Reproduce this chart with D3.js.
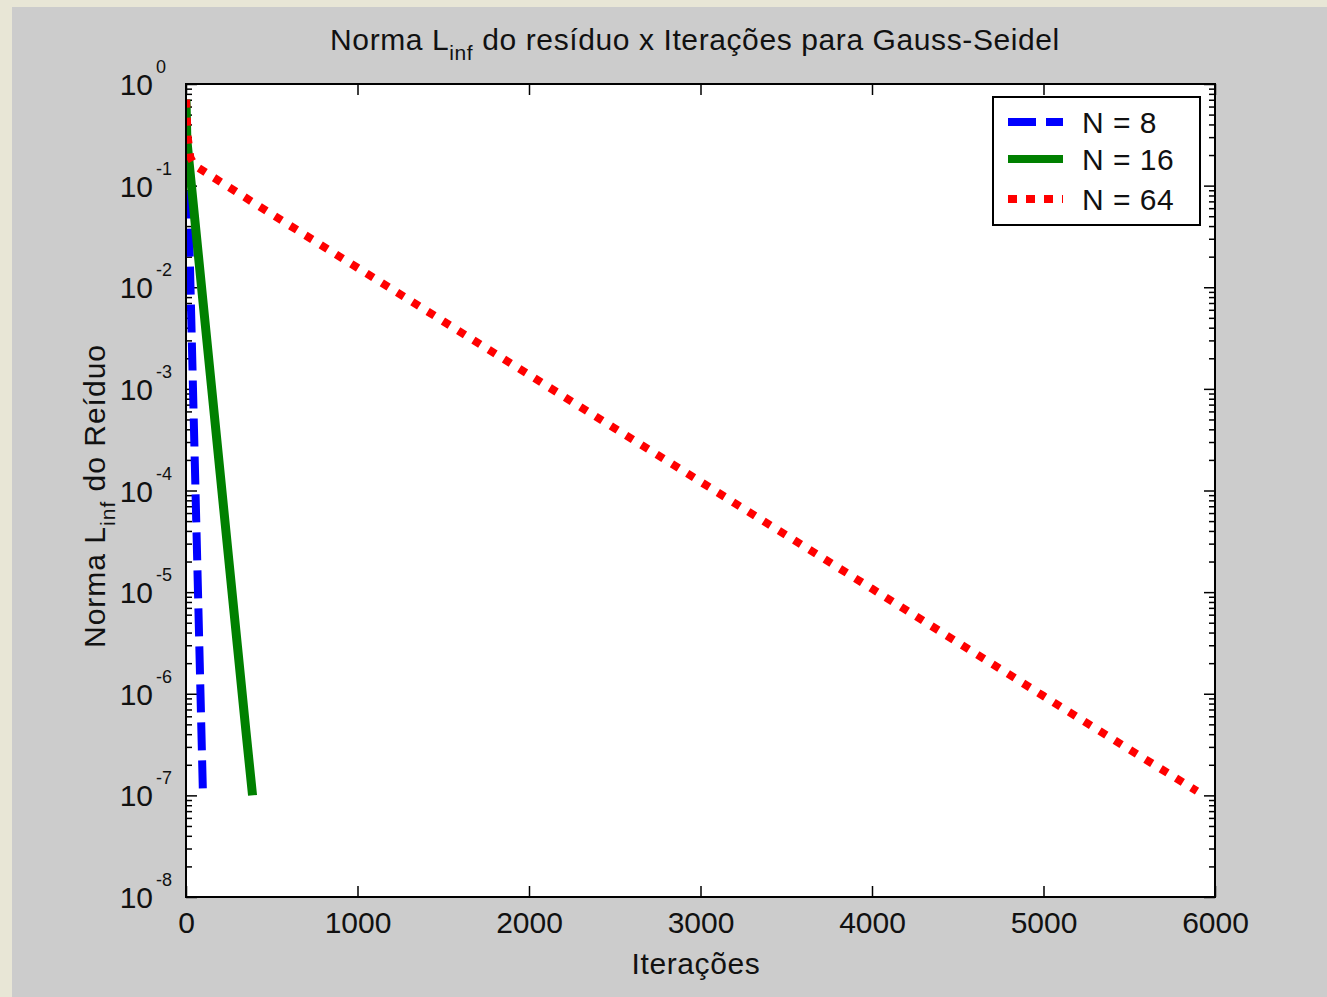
<!DOCTYPE html>
<html>
<head>
<meta charset="utf-8">
<script src="https://cdn.jsdelivr.net/npm/d3@7"></script>
<style>
body { margin: 0; background: #e8e6d6; }
text { font-family: "Liberation Sans", Arial, sans-serif; fill: #111; }
</style>
</head>
<body>
<script>
// values
var iterN8  = [0, 10, 20, 40, 60, 80, 99];
var resN8   = [0.5, 0.13, 0.0267, 1.13e-3, 4.78e-5, 2.03e-6, 1.0e-7];

var iterN16 = [0, 5, 50, 100, 150, 200, 250, 300, 350, 388];
var resN16  = [0.7, 0.28, 0.049, 6.97e-3, 1.0e-3, 1.43e-4, 2.04e-5, 2.93e-6, 4.2e-7, 1.0e-7];

var iterN64 = [0, 10, 25, 50, 500, 1000, 1500, 2000, 2500, 3000, 3500, 4000, 4500, 5000, 5500, 5895];
var resN64  = [0.7, 0.3, 0.19, 0.158, 0.0523, 0.01556, 0.00463, 0.001377, 4.09e-4, 1.22e-4, 3.63e-5, 1.08e-5, 3.2e-6, 9.5e-7, 2.84e-7, 1.1e-7];

var xTicks = [0, 1000, 2000, 3000, 4000, 5000, 6000];
var yExponents = [0, -1, -2, -3, -4, -5, -6, -7, -8];
var legendLabels = ["N = 8", "N = 16", "N = 64"];

var axL = 186, axR = 1215, axT = 84, axB = 897;

var xScale = d3.scaleLinear().domain([0, 6000]).range([axL, axR]);
var yScale = d3.scaleLog().domain([1e-8, 1]).range([axB, axT]);

var svg = d3.select("body").append("svg")
.attr("width", 1327)
.attr("height", 997);

// grey figure area
svg.append("rect")
.attr("x", 12).attr("y", 7)
.attr("width", 1315).attr("height", 990)
.attr("fill", "#cccccc");

svg.append("rect")
.attr("x", axL).attr("y", axT)
.attr("width", axR - axL).attr("height", axB - axT)
.attr("fill", "#ffffff");

svg.append("clipPath").attr("id", "clip")
.append("rect")
.attr("x", axL).attr("y", axT)
.attr("width", axR - axL).attr("height", axB - axT);

var majorY = yExponents.map(function(e) { return Math.pow(10, e); });
var minorY = [];
for (var e = -8; e < 0; e++) {
  for (var m = 2; m <= 9; m++) minorY.push(m * Math.pow(10, e));
}

function styleAxis(g) {
  g.select(".domain").remove();
  g.selectAll("line").attr("stroke", "#000").attr("stroke-width", 1.5);
}

var xAxisGroup = svg.append("g")
.attr("transform", "translate(0," + axB + ")")
.call(d3.axisBottom(xScale).tickValues(xTicks).tickSizeInner(-11).tickSizeOuter(0).tickPadding(15).tickFormat(d3.format("d")))
.call(styleAxis);
xAxisGroup.selectAll("text").attr("font-size", 30).attr("fill", "#111").attr("font-family", "Liberation Sans, Arial, sans-serif");

svg.append("g")
.attr("transform", "translate(0," + axT + ")")
.call(d3.axisTop(xScale).tickValues(xTicks).tickSizeInner(-11).tickSizeOuter(0).tickFormat(""))
.call(styleAxis);

svg.append("g")
.attr("transform", "translate(" + axL + ",0)")
.call(d3.axisLeft(yScale).tickValues(majorY).tickSizeInner(-11).tickSizeOuter(0).tickFormat(""))
.call(styleAxis);
svg.append("g")
.attr("transform", "translate(" + axL + ",0)")
.call(d3.axisLeft(yScale).tickValues(minorY).tickSizeInner(-6).tickSizeOuter(0).tickFormat(""))
.call(styleAxis);
svg.append("g")
.attr("transform", "translate(" + axR + ",0)")
.call(d3.axisRight(yScale).tickValues(majorY).tickSizeInner(-11).tickSizeOuter(0).tickFormat(""))
.call(styleAxis);
svg.append("g")
.attr("transform", "translate(" + axR + ",0)")
.call(d3.axisRight(yScale).tickValues(minorY).tickSizeInner(-6).tickSizeOuter(0).tickFormat(""))
.call(styleAxis);

// y tick labels 10^e
var yLabels = svg.append("g");
yExponents.forEach(function(e) {
  var y = yScale(Math.pow(10, e));
  yLabels.append("text")
  .attr("x", 153).attr("y", y + 11)
  .attr("text-anchor", "end")
  .attr("font-size", 30)
  .text("10");
  yLabels.append("text")
  .attr("x", 156).attr("y", y - 11)
  .attr("font-size", 18)
  .text(e);
});

// series
var linePath = d3.line()
.x(function(d) { return xScale(d[0]); })
.y(function(d) { return yScale(d[1]); });

var plot = svg.append("g").attr("clip-path", "url(#clip)");

plot.append("path")
.attr("d", linePath(d3.zip(iterN8, resN8)))
.attr("fill", "none").attr("stroke", "#0000ff")
.attr("stroke-width", 8).attr("stroke-dasharray", "28 10");

plot.append("path")
.attr("d", linePath(d3.zip(iterN16, resN16)))
.attr("fill", "none").attr("stroke", "#008000")
.attr("stroke-width", 9);

plot.append("path")
.attr("d", linePath(d3.zip(iterN64, resN64)))
.attr("fill", "none").attr("stroke", "#ff0000")
.attr("stroke-width", 8).attr("stroke-dasharray", "8 10");

// axes box
svg.append("rect")
.attr("x", axL).attr("y", axT)
.attr("width", axR - axL).attr("height", axB - axT)
.attr("fill", "none").attr("stroke", "#000").attr("stroke-width", 2);

// title
var title = svg.append("text")
.attr("x", 695).attr("y", 50)
.attr("text-anchor", "middle")
.attr("font-size", 30)
.attr("letter-spacing", 0.6);
title.append("tspan").text("Norma L");
title.append("tspan").attr("font-size", 21).attr("dy", 10).text("inf");
title.append("tspan").attr("dy", -10).text(" do resíduo x Iterações para Gauss-Seidel");

// axis labels
svg.append("text")
.attr("x", 696).attr("y", 974)
.attr("text-anchor", "middle")
.attr("font-size", 30)
.attr("letter-spacing", 0.6)
.text("Iterações");

var ylab = svg.append("text")
.attr("transform", "translate(105,496) rotate(-90)")
.attr("text-anchor", "middle")
.attr("font-size", 30)
.attr("letter-spacing", 1);
ylab.append("tspan").text("Norma L");
ylab.append("tspan").attr("font-size", 21).attr("dy", 10).text("inf");
ylab.append("tspan").attr("dy", -10).text(" do Reíduo");

// legend
var legend = svg.append("g");
legend.append("rect")
.attr("x", 993).attr("y", 97)
.attr("width", 207).attr("height", 128)
.attr("fill", "#fff").attr("stroke", "#000").attr("stroke-width", 2);

var legendColors = ["#0000ff", "#008000", "#ff0000"];
var legendDash = ["28 10", null, "9 9"];
var legendY = [122, 159, 199];
legendLabels.forEach(function(lab, i) {
  legend.append("line")
  .attr("x1", 1008).attr("x2", 1063)
  .attr("y1", legendY[i]).attr("y2", legendY[i])
  .attr("stroke", legendColors[i]).attr("stroke-width", 8)
  .attr("stroke-dasharray", legendDash[i]);
  legend.append("text")
  .attr("x", 1082).attr("y", legendY[i] + 11)
  .attr("font-size", 30)
  .attr("letter-spacing", 0.5)
  .text(lab);
});
</script>
</body>
</html>
